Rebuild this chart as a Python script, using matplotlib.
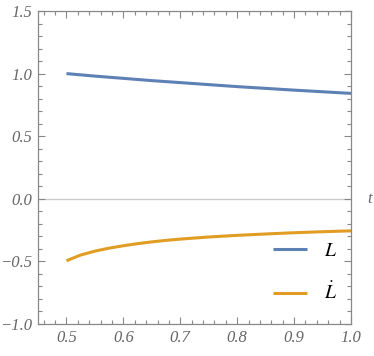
import matplotlib
matplotlib.use("Agg")
import matplotlib.pyplot as plt
from matplotlib.ticker import MultipleLocator
import matplotlib.transforms as mtransforms

# values
t_L = [0.5, 0.55, 0.6, 0.65, 0.7, 0.75, 0.8, 0.85, 0.9, 0.95, 1.0]
L_vals = [1.0, 0.98, 0.962, 0.944, 0.928, 0.912, 0.896, 0.882, 0.868, 0.855, 0.842]
t_Ld = [0.5, 0.525, 0.55, 0.575, 0.6, 0.625, 0.65, 0.675, 0.7, 0.75, 0.8, 0.85, 0.9, 0.95, 1.0]
Ldot_vals = [-0.495, -0.449, -0.418, -0.394, -0.375, -0.358, -0.344, -0.332, -0.322,
             -0.305, -0.292, -0.281, -0.271, -0.263, -0.256]

x_ticks = [0.5, 0.6, 0.7, 0.8, 0.9, 1.0]
x_labels = ['0.5', '0.6', '0.7', '0.8', '0.9', '1.0']
y_ticks = [-1.0, -0.5, 0.0, 0.5, 1.0, 1.5]
y_labels = ['\u22121.0', '\u22120.5', '0.0', '0.5', '1.0', '1.5']

plt.rcParams['mathtext.fontset'] = 'stix'
plt.rcParams['font.family'] = 'Liberation Serif'

blue = '#5E81B5'
orange = '#E19C24'
gray = '#888888'

fig = plt.figure(figsize=(3.74, 3.56), dpi=100)
ax = fig.add_axes([38/374, 32/356, 313/374, 313/356])

ax.axhline(0, color='#cccccc', lw=1.0, zorder=1)
ax.plot(t_L, L_vals, color=blue, lw=2.2, label='$L$', solid_capstyle='butt')
ax.plot(t_Ld, Ldot_vals, color=orange, lw=2.2, label=r'$\dot{L}$', solid_capstyle='butt')

ax.set_xlim(0.45, 1.0)
ax.set_ylim(-1.0, 1.5)
ax.set_xticks(x_ticks, x_labels, fontstyle='italic', fontsize=12, color='#666666')
ax.set_yticks(y_ticks, y_labels, fontstyle='italic', fontsize=12, color='#666666')
ax.xaxis.set_minor_locator(MultipleLocator(0.02))
ax.yaxis.set_minor_locator(MultipleLocator(0.1))

ax.tick_params(which='both', direction='in', top=True, right=True, color=gray, width=0.8)
ax.tick_params(which='major', length=5, pad=4)
ax.tick_params(which='minor', length=3)
for s in ax.spines.values():
    s.set_color(gray)
    s.set_linewidth(0.9)

trans = mtransforms.blended_transform_factory(ax.transAxes, ax.transData)
ax.text(1.06, 0.0, 't', transform=trans, fontsize=12, color='#666666',
        fontstyle='italic', ha='center', va='center')

leg = ax.legend(loc='lower right', bbox_to_anchor=(1.012, 0.01), frameon=False,
                fontsize=14, handlelength=1.75, labelspacing=1.15, handletextpad=0.9)

fig.savefig('out.png', dpi=100)
